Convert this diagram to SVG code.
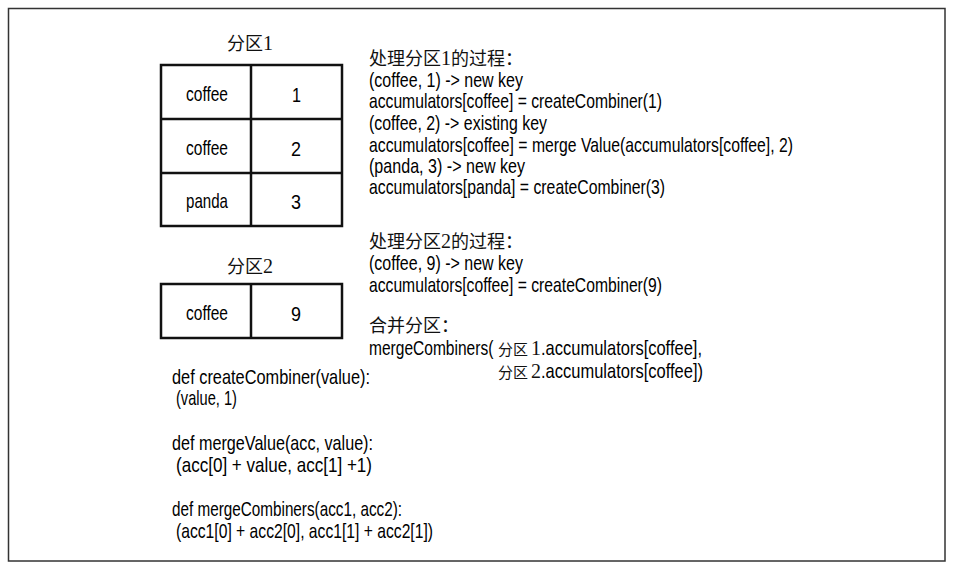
<svg xmlns="http://www.w3.org/2000/svg" width="959" height="566" viewBox="0 0 959 566">
<style>
.t{font-family:"Liberation Sans",Arial,sans-serif;font-size:21px;fill:#000}
.c{font-family:"Noto Sans CJK SC","Noto Sans CJK JP",sans-serif;font-size:18px;fill:#111}
.ci{font-family:"Noto Sans CJK SC","Noto Sans CJK JP",sans-serif;font-size:15px;fill:#111}
.d{font-family:"Liberation Serif","Times New Roman",serif;font-size:20px;fill:#111}
.cell{fill:#fff;stroke:#111;stroke-width:2.5}
.ln{stroke:#111;stroke-width:2.5}
.m{text-anchor:middle}
</style>
<rect x="0" y="0" width="959" height="566" fill="#fff"/>
<rect x="8.5" y="8.5" width="936.5" height="552.5" fill="none" stroke="#333" stroke-width="1.5"/>

<g id="partition1">
  <text x="250" y="50" class="c m"><tspan>分区</tspan><tspan class="d">1</tspan></text>
  <rect x="161" y="65" width="181" height="161" class="cell"/>
  <line x1="161" y1="119" x2="342" y2="119" class="ln"/>
  <line x1="161" y1="173" x2="342" y2="173" class="ln"/>
  <line x1="251" y1="65" x2="251" y2="226" class="ln"/>
  <text x="186" y="101" class="t" textLength="42" lengthAdjust="spacingAndGlyphs">coffee</text>
  <text x="292" y="102" class="t" textLength="9" lengthAdjust="spacingAndGlyphs">1</text>
  <text x="186" y="155" class="t" textLength="42" lengthAdjust="spacingAndGlyphs">coffee</text>
  <text x="291" y="156" class="t" textLength="10" lengthAdjust="spacingAndGlyphs">2</text>
  <text x="186" y="208" class="t" textLength="42" lengthAdjust="spacingAndGlyphs">panda</text>
  <text x="291" y="209" class="t" textLength="10" lengthAdjust="spacingAndGlyphs">3</text>
</g>

<g id="partition2">
  <text x="250" y="273" class="c m"><tspan>分区</tspan><tspan class="d">2</tspan></text>
  <rect x="161" y="284" width="181" height="54" class="cell"/>
  <line x1="251" y1="284" x2="251" y2="338" class="ln"/>
  <text x="186" y="320" class="t" textLength="42" lengthAdjust="spacingAndGlyphs">coffee</text>
  <text x="291" y="321" class="t" textLength="10" lengthAdjust="spacingAndGlyphs">9</text>
</g>

<g id="process1">
  <text x="369" y="65" class="c">处理分区<tspan class="d">1</tspan>的过程：</text>
  <text x="369" y="87" class="t" textLength="154" lengthAdjust="spacingAndGlyphs">(coffee, 1) -&gt; new key</text>
  <text x="369" y="108" class="t" textLength="293" lengthAdjust="spacingAndGlyphs">accumulators[coffee] = createCombiner(1)</text>
  <text x="369" y="130" class="t" textLength="178" lengthAdjust="spacingAndGlyphs">(coffee, 2) -&gt; existing key</text>
  <text x="369" y="152" class="t" textLength="424" lengthAdjust="spacingAndGlyphs">accumulators[coffee] = merge Value(accumulators[coffee], 2)</text>
  <text x="369" y="173" class="t" textLength="156" lengthAdjust="spacingAndGlyphs">(panda, 3) -&gt; new key</text>
  <text x="369" y="194" class="t" textLength="296" lengthAdjust="spacingAndGlyphs">accumulators[panda] = createCombiner(3)</text>
</g>

<g id="process2">
  <text x="369" y="248" class="c">处理分区<tspan class="d">2</tspan>的过程：</text>
  <text x="369" y="270" class="t" textLength="154" lengthAdjust="spacingAndGlyphs">(coffee, 9) -&gt; new key</text>
  <text x="369" y="292" class="t" textLength="293" lengthAdjust="spacingAndGlyphs">accumulators[coffee] = createCombiner(9)</text>
</g>

<g id="merge">
  <text x="369" y="332" class="c">合并分区：</text>
  <text transform="translate(369,355) scale(0.74,1)" x="0" y="0" class="t">mergeCombiners(</text>
  <text x="498" y="355" class="ci">分区</text>
  <text x="531" y="355" class="d">1</text>
  <text x="541" y="355" class="t" textLength="161" lengthAdjust="spacingAndGlyphs">.accumulators[coffee],</text>
  <text x="498" y="378" class="ci">分区</text>
  <text x="531" y="378" class="d">2</text>
  <text x="541" y="378" class="t" textLength="162" lengthAdjust="spacingAndGlyphs">.accumulators[coffee])</text>
</g>

<g id="code">
  <text x="172" y="384" class="t" textLength="198" lengthAdjust="spacingAndGlyphs">def createCombiner(value):</text>
  <text x="176" y="405" class="t" textLength="61" lengthAdjust="spacingAndGlyphs">(value, 1)</text>
  <text x="172" y="450" class="t" textLength="201" lengthAdjust="spacingAndGlyphs">def mergeValue(acc, value):</text>
  <text x="176" y="472" class="t" textLength="196" lengthAdjust="spacingAndGlyphs">(acc[0] + value, acc[1] +1)</text>
  <text x="172" y="516" class="t" textLength="230" lengthAdjust="spacingAndGlyphs">def mergeCombiners(acc1, acc2):</text>
  <text x="176" y="538" class="t" textLength="257" lengthAdjust="spacingAndGlyphs">(acc1[0] + acc2[0], acc1[1] + acc2[1])</text>
</g>
</svg>
